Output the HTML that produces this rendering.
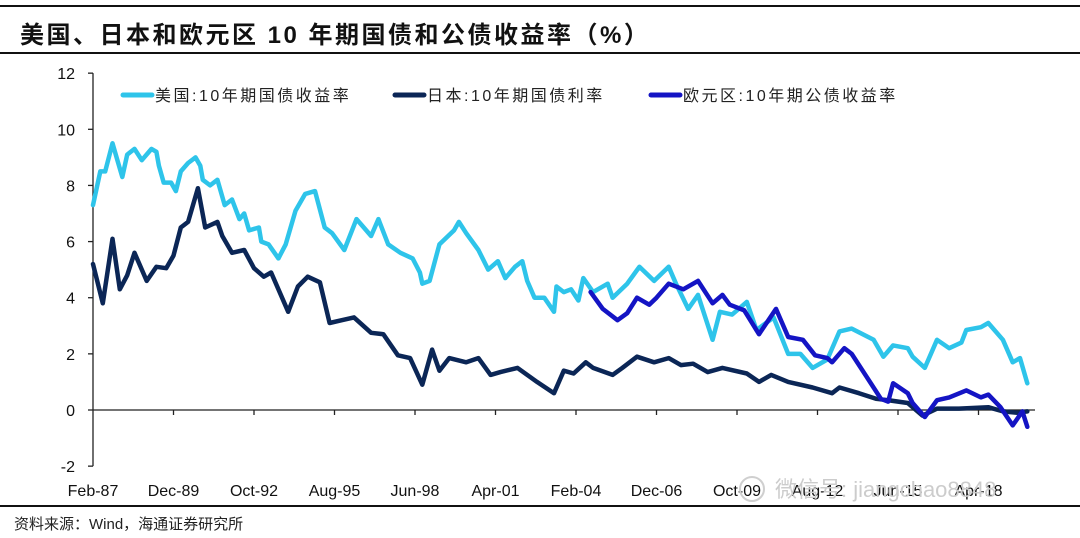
<!DOCTYPE html>
<html><head><meta charset="utf-8">
<style>
html,body{margin:0;padding:0;background:#fff;}
body{width:1080px;height:538px;overflow:hidden;position:relative;font-family:"Liberation Sans","Noto Sans CJK SC",sans-serif;}
.rule{position:absolute;left:0;width:1080px;height:2px;background:#111;}
#title{position:absolute;left:20px;top:15px;font-size:24px;font-weight:bold;color:#111;letter-spacing:2.5px;white-space:nowrap;}
#source{position:absolute;left:14px;top:513px;font-size:15px;color:#222;white-space:nowrap;}
svg{position:absolute;left:0;top:0;}
</style></head><body>
<div class="rule" style="top:5px"></div>
<div id="title">美国、日本和欧元区 10 年期国债和公债收益率（%）</div>
<div class="rule" style="top:52px"></div>
<svg id="chart" width="1080" height="538"></svg>
<div class="rule" style="top:505px"></div>
<div id="source">资料来源：Wind，海通证券研究所</div>
<script>
const yTicks=[12,10,8,6,4,2,0,-2];
const xLabels=["Feb-87","Dec-89","Oct-92","Aug-95","Jun-98","Apr-01","Feb-04","Dec-06","Oct-09","Aug-12","Jun-15","Apr-18"];
const usMonths=[0,3,5,8,10,12,14,17,20,24,26,27,29,32,34,36,39,42,44,45,48,51,54,57,60,62,64,68,69,72,76,79,83,87,91,95,98,103,108,111,114,117,121,126,131,134,135,138,142,148,150,153,158,162,166,169,173,176,178,181,185,189,190,193,196,199,201,205,211,213,219,224,230,236,239,244,248,254,257,262,268,272,279,285,290,295,301,306,311,320,324,328,334,336,341,346,351,356,358,364,367,373,377,380,383];
const usValues=[7.3,8.5,8.5,9.5,8.9,8.3,9.1,9.3,8.9,9.3,9.2,8.7,8.1,8.1,7.8,8.5,8.8,9.0,8.7,8.2,8.0,8.2,7.3,7.5,6.8,7.0,6.4,6.5,6.0,5.9,5.4,5.9,7.1,7.7,7.8,6.5,6.3,5.7,6.8,6.5,6.2,6.8,5.9,5.6,5.4,4.9,4.5,4.6,5.9,6.4,6.7,6.3,5.7,5.0,5.3,4.7,5.1,5.3,4.6,4.0,4.0,3.5,4.4,4.2,4.3,3.9,4.7,4.2,4.5,4.0,4.5,5.1,4.6,5.1,4.5,3.6,4.1,2.5,3.5,3.4,3.85,2.85,3.3,2.0,2.0,1.5,1.8,2.8,2.9,2.5,1.9,2.3,2.2,1.9,1.5,2.5,2.2,2.4,2.85,2.95,3.1,2.5,1.7,1.85,0.95];
const jpMonths=[0,4,8,11,14,17,22,26,30,33,36,39,43,46,51,53,57,62,66,70,73,80,84,88,93,97,102,107,114,119,125,130,135,139,142,146,153,158,163,167,174,182,189,193,197,202,205,213,217,223,230,236,241,246,252,258,268,273,278,285,295,303,306,314,321,326,334,340,346,355,367,373,379,383];
const jpValues=[5.2,3.8,6.1,4.3,4.8,5.6,4.6,5.1,5.05,5.5,6.5,6.7,7.9,6.5,6.7,6.2,5.6,5.7,5.05,4.75,4.9,3.5,4.4,4.75,4.55,3.1,3.2,3.3,2.75,2.7,1.95,1.85,0.9,2.15,1.4,1.85,1.7,1.85,1.25,1.35,1.5,1.0,0.6,1.4,1.3,1.7,1.5,1.25,1.5,1.9,1.7,1.85,1.6,1.65,1.35,1.5,1.3,1.0,1.25,1.0,0.8,0.6,0.8,0.6,0.4,0.35,0.25,-0.2,0.05,0.05,0.1,-0.05,-0.1,-0.05];
const euMonths=[204,209,215,219,223,228,231,236,242,248,254,258,261,267,273,280,285,291,296,301,303,308,311,317,323,326,328,334,336,341,346,351,358,364,367,372,377,381,383];
const euValues=[4.2,3.6,3.2,3.45,4.0,3.75,4.0,4.5,4.3,4.6,3.8,4.1,3.75,3.55,2.7,3.6,2.6,2.5,1.95,1.85,1.7,2.2,2.0,1.2,0.4,0.3,0.95,0.6,0.25,-0.25,0.35,0.45,0.7,0.45,0.55,0.1,-0.55,-0.05,-0.6];

const svg=document.getElementById('chart');
const NS='http://www.w3.org/2000/svg';
const X0=93,MPP=80.5/33;
const xs=m=>X0+m*MPP;
const ys=v=>410-v*28.07;
function mk(tag,attrs){const e=document.createElementNS(NS,tag);for(const k in attrs)e.setAttribute(k,attrs[k]);svg.appendChild(e);return e;}

let ax=mk('line',{x1:X0,y1:ys(12),x2:X0,y2:ys(-2),stroke:'#222','stroke-width':1.3});


yTicks.forEach(t=>{
  const tk=mk('line',{x1:X0-5,y1:ys(t),x2:X0,y2:ys(t),stroke:'#222','stroke-width':1.3});
  
  
  const tx=mk('text',{x:X0-18,y:ys(t)+6,'text-anchor':'end','font-size':16,fill:'#111','font-family':'Liberation Sans, sans-serif'});
  tx.textContent=t;
  
  
});
let xa=mk('line',{x1:X0,y1:ys(0),x2:1035,y2:ys(0),stroke:'#222','stroke-width':1.3});


xLabels.forEach((l,i)=>{
  const x=xs(i*33);
  if(i>0){const tk=mk('line',{x1:x,y1:ys(0),x2:x,y2:ys(0)+5,stroke:'#222','stroke-width':1.3});
  
  }
  const tx=mk('text',{x:x,y:496,'text-anchor':'middle','font-size':16,fill:'#111','font-family':'Liberation Sans, sans-serif'});
  tx.textContent=l;
  
  
});
function series(ms,vs,color,name){
  const d=ms.map((m,i)=>(i?'L':'M')+xs(m).toFixed(1)+','+ys(vs[i]).toFixed(1)).join('');
  const p=mk('path',{d:d,fill:'none',stroke:color,'stroke-width':4.5,'stroke-linejoin':'round','stroke-linecap':'round'});
  
  
}
series(usMonths,usValues,'#2ec4ea','us-10y-line');
series(jpMonths,jpValues,'#0b2656','japan-10y-line');
series(euMonths,euValues,'#1414c4','euro-10y-line');

const leg=[[123,'#2ec4ea','美国:10年期国债收益率','legend-us'],[395,'#0b2656','日本:10年期国债利率','legend-japan'],[651,'#1414c4','欧元区:10年期公债收益率','legend-euro']];
leg.forEach(([x,c,t,n])=>{
  const g=mk('g',{});
  
  
  const r=document.createElementNS(NS,'line');
  r.setAttribute('x1',x);r.setAttribute('y1',95);r.setAttribute('x2',x+29);r.setAttribute('y2',95);
  r.setAttribute('stroke',c);r.setAttribute('stroke-width',5);r.setAttribute('stroke-linecap','round');
  g.appendChild(r);
  const tx=document.createElementNS(NS,'text');
  tx.setAttribute('x',x+32);tx.setAttribute('y',101);tx.setAttribute('font-size',16);tx.setAttribute('fill','#222');
  tx.setAttribute('letter-spacing','2.5');
  tx.setAttribute('font-family','Liberation Sans, Noto Sans CJK SC, sans-serif');
  tx.textContent=t;g.appendChild(tx);
});
const wm=mk('text',{x:775,y:497,'font-size':22,fill:'#cccccc','font-family':'Liberation Sans, Noto Sans CJK SC, sans-serif'});
wm.textContent='微信号: jiangchao8848';


const wc=mk('circle',{cx:752,cy:489,r:12,fill:'none',stroke:'#cfcfcf','stroke-width':2});


</script>
</body></html>
